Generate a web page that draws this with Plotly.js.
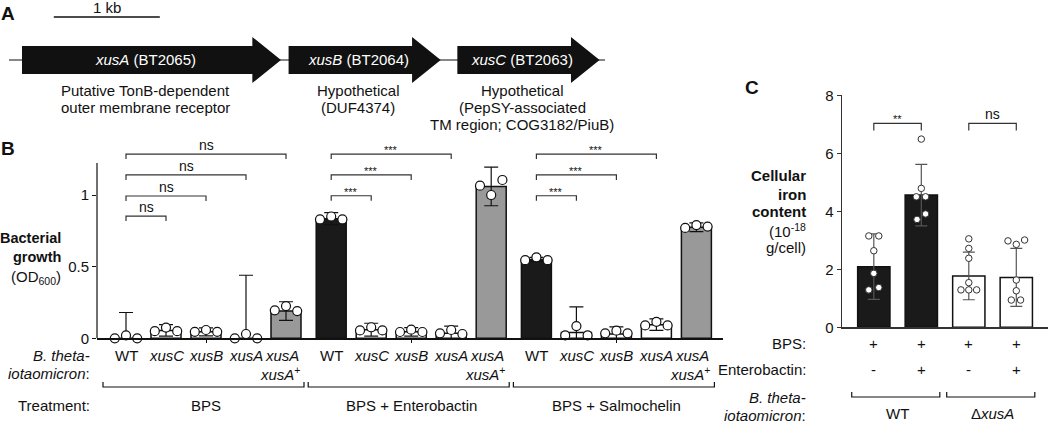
<!DOCTYPE html>
<html><head><meta charset="utf-8">
<script src="https://cdn.plot.ly/plotly-3.0.1.min.js"></script>
<style>html,body{margin:0;padding:0;background:#fff}#chart{width:1050px;height:423px}</style>
</head><body><div id="chart"></div>
<script>
// ================= DATA =================
// Panel A: xus locus (kb)
const geneNames = ['xusA', 'xusB', 'xusC'];
const geneIds = ['BT2065', 'BT2064', 'BT2063'];
const geneStart = [0, 2.515, 4.107];
const geneEnd = [2.443, 3.95, 5.449];
const geneDesc = [
  ['Putative TonB-dependent', 'outer membrane receptor'],
  ['Hypothetical', '(DUF4374)'],
  ['Hypothetical', '(PepSY-associated', 'TM region; COG3182/PiuB)']
];
const locusStart = -0.123;
const locusEnd = 5.5;
const scaleBarKb = 1;

// Panel B: bacterial growth (OD600)
const strains = ['WT', 'xusC', 'xusB', 'xusA', 'xusA xusA+'];
const treatments = ['BPS', 'BPS + Enterobactin', 'BPS + Salmochelin'];
const growthBPS = [0, 0.055, 0.045, 0, 0.19];
const growthEnt = [0.835, 0.06, 0.045, 0.035, 1.06];
const growthSal = [0.55, 0.04, 0.03, 0.095, 0.775];
const errBPS = [0.18, 0.04, 0.028, 0.44, 0.065];
const errEnt = [0.042, 0.045, 0.03, 0.05, 0.135];
const errSal = [0.015, 0.18, 0.05, 0.04, 0.03];
const repsBPS = [[0, 0.02, 0], [0.05, 0.075, 0.05], [0.045, 0.058, 0.045], [0, 0.03, 0], [0.195, 0.225, 0.19]];
const repsEnt = [[0.83, 0.85, 0.83], [0.055, 0.077, 0.055], [0.044, 0.06, 0.044], [0.035, 0.058, 0.03], [1.065, 1.0, 1.105]];
const repsSal = [[0.545, 0.565, 0.545], [0.02, 0.085, 0.02], [0.035, 0.053, 0.035], [0.09, 0.115, 0.09], [0.77, 0.79, 0.78]];
const sigGroup = [0, 0, 0, 0, 1, 1, 1, 2, 2, 2];
const sigTo = [1, 2, 3, 4, 1, 2, 3, 1, 2, 3];
const sigLabel = ['ns', 'ns', 'ns', 'ns', '***', '***', '***', '***', '***', '***'];

// Panel C: cellular iron content (1e-18 g/cell)
const ironGroups = ['WT', 'ΔxusA'];
const ironBPS = ['+', '+', '+', '+'];
const ironEnt = ['-', '+', '-', '+'];
const ironMean = [2.09, 4.56, 1.77, 1.72];
const ironErr = [1.13, 1.06, 0.82, 1.0];
const ironReps = [
  [3.15, 3.15, 2.64, 1.86, 1.37, 1.29],
  [6.49, 4.79, 4.5, 4.5, 3.91, 3.72],
  [3.05, 2.72, 2.38, 1.54, 1.29, 1.29, 1.29],
  [2.98, 2.86, 3.01, 1.63, 1.26, 0.94, 0.94]
];
const ironSigLabel = ['**', 'ns'];

// ================= DRAWING =================
const W = 1050, H = 423;
const FONT = 'Arial, "Liberation Sans", sans-serif';
const INK = '#111';
const px = x => x / W, py = y => 1 - y / H;
const annotations = [], shapes = [], traces = [];
const f = (size, color) => ({family: FONT, size: size || 15, color: color || INK});
function ann(o) {
  annotations.push(Object.assign({showarrow: false, xanchor: 'center', yanchor: 'middle', font: f()}, o));
}
function txt(text, x, y, opt) {
  ann(Object.assign({text, x, y, xref: 'paper', yref: 'paper'}, opt || {}));
}
function line(x0, y0, x1, y1, xref, yref, color, w) {
  shapes.push({type: 'line', x0, y0, x1, y1, xref, yref, line: {color: color || INK, width: w || 1.2}});
}

// ---------- Panel A ----------
const bodyH = 14, headH = 23, headL = 0.27;
traces.push({type: 'scatter', mode: 'lines', x: [locusStart, locusEnd], y: [0, 0], xaxis: 'x3', yaxis: 'y3',
  line: {color: INK, width: 1.2}, hoverinfo: 'skip', showlegend: false});
geneNames.forEach((g, k) => {
  const s = geneStart[k], e = geneEnd[k], h = e - headL;
  traces.push({type: 'scatter', mode: 'lines', fill: 'toself', fillcolor: '#111', line: {width: 0, color: '#111'},
    x: [s, h, h, e, h, h, s, s], y: [-bodyH, -bodyH, -headH, 0, headH, bodyH, bodyH, -bodyH],
    xaxis: 'x3', yaxis: 'y3', hoverinfo: 'skip', showlegend: false});
  const mid = (s + e) / 2 - 0.06;
  ann({text: '<i>' + g + '</i> (' + geneIds[k] + ')', x: mid, y: 0, xref: 'x3', yref: 'y3', font: f(15, '#fff')});
  geneDesc[k].forEach((d, j) => {
    ann({text: d, x: mid, y: py(91 + 17 * j), xref: 'x3', yref: 'paper'});
  });
});
line(0.3, py(17), 0.3 + scaleBarKb, py(17), 'x3', 'paper', INK, 1.3);
ann({text: scaleBarKb + ' kb', x: 0.3 + scaleBarKb / 2, y: py(7), xref: 'x3', yref: 'paper'});
txt('<b>A</b>', px(8), py(13), {font: f(19)});

// ---------- Panel B ----------
const GAP = 5.13;
const xB = (g, i) => g * GAP + i;
const groupMeans = [growthBPS, growthEnt, growthSal];
const groupErrs = [errBPS, errEnt, errSal];
const groupReps = [repsBPS, repsEnt, repsSal];
const strainColor = ['#1a1a1a', '#ffffff', '#ffffff', '#ffffff', '#999999'];
const bx = [], by = [], be = [], bc = [], rx = [], ry = [];
const jit = [-0.28, 0, 0.28, 0];
groupMeans.forEach((arr, g) => arr.forEach((v, i) => {
  bx.push(xB(g, i)); by.push(v); be.push(groupErrs[g][i]); bc.push(strainColor[i]);
  groupReps[g][i].forEach((r, j) => { rx.push(xB(g, i) + jit[j]); ry.push(r); });
}));
traces.push({type: 'bar', x: bx, y: by, width: 0.75, xaxis: 'x', yaxis: 'y',
  marker: {color: bc, line: {color: INK, width: 1.5}},
  error_y: {type: 'data', array: be, visible: true, color: INK, thickness: 1.2, width: 7},
  hoverinfo: 'skip', showlegend: false});
traces.push({type: 'scatter', mode: 'markers', x: rx, y: ry, xaxis: 'x', yaxis: 'y', cliponaxis: false,
  marker: {symbol: 'circle', size: 9, color: '#fff', line: {color: INK, width: 1.2}},
  hoverinfo: 'skip', showlegend: false});
// y axis line (to 1.22)
line(px(97), 0, px(97), 1.223, 'paper', 'y', INK, 1.2);
// significance brackets
const sigLevels = [[0.853, 0.993, 1.14, 1.286], [0.995, 1.14, 1.286], [0.995, 1.14, 1.286]];
const rank = [0, 0, 0];
sigLabel.forEach((lab, k) => {
  const g = sigGroup[k], lvl = sigLevels[g][rank[g]++];
  const x0 = xB(g, 0), x1 = xB(g, sigTo[k]), tick = 0.035;
  shapes.push({type: 'path', xref: 'x', yref: 'y', line: {color: '#333', width: 1.2},
    path: `M${x0},${lvl - tick} L${x0},${lvl} L${x1},${lvl} L${x1},${lvl - tick}`});
  ann({text: lab, x: (x0 + x1) / 2, y: lvl, xref: 'x', yref: 'y', yanchor: 'bottom',
    yshift: lab === 'ns' ? -1 : -4, font: f(lab === 'ns' ? 14 : 11)});
});
// y label
txt('<b>Bacterial</b>', px(63), py(238), {xanchor: 'right', font: f(14.5)});
txt('<b>growth</b>', px(63), py(257), {xanchor: 'right', font: f(14.5)});
txt('(OD<sub>600</sub>)', px(63), py(277), {xanchor: 'right'});
txt('<b>B</b>', px(8), py(149), {font: f(19)});
// strain labels
const rowB1 = 355, rowB2 = 373, brB = 387, rowT = 405;
treatments.forEach((t, g) => {
  strains.forEach((s, i) => {
    const x = xB(g, i);
    if (s === 'WT') ann({text: 'WT', x, y: py(rowB1), xref: 'x', yref: 'paper'});
    else if (s.indexOf(' ') > 0) {
      const parts = s.replace('+', '').split(' ');
      ann({text: '<i>' + parts[0] + '</i>', x, y: py(rowB1), xref: 'x', yref: 'paper', xshift: -4});
      ann({text: '<i>' + parts[1] + '</i><sup>+</sup>', x, y: py(rowB2), xref: 'x', yref: 'paper', xanchor: 'right', xshift: 17});
    } else ann({text: '<i>' + s + '</i>', x, y: py(rowB1), xref: 'x', yref: 'paper'});
  });
  const a = xB(g, 0) - 0.575, b = xB(g, 4) + 0.45;
  shapes.push({type: 'path', xref: 'x', yref: 'paper', line: {color: INK, width: 1.2},
    path: `M${a},${py(brB - 5)} L${a},${py(brB)} L${b},${py(brB)} L${b},${py(brB - 5)}`});
  ann({text: t, x: xB(g, 2), y: py(rowT), xref: 'x', yref: 'paper'});
});
txt('<i>B. theta-</i>', px(92), py(rowB1), {xanchor: 'right'});
txt('<i>iotaomicron</i>:', px(92), py(rowB2), {xanchor: 'right'});
txt('Treatment:', px(92), py(rowT), {xanchor: 'right'});

// ---------- Panel C ----------
const cx = ironMean.map((_, i) => i);
const cColor = ['#1a1a1a', '#1a1a1a', '#ffffff', '#ffffff'];
const ironJit = [
  [-0.105, 0.105, 0, 0, 0.105, -0.105],
  [0, 0, -0.105, 0.09, 0.09, -0.09],
  [0, 0, 0, 0, -0.165, 0, 0.165],
  [-0.175, 0, 0.175, 0, 0, -0.105, 0.09]
];
traces.push({type: 'bar', x: cx, y: ironMean, width: 0.68, xaxis: 'x2', yaxis: 'y2',
  marker: {color: cColor, line: {color: INK, width: 1.5}},
  error_y: {type: 'data', array: ironErr, visible: true, color: '#555', thickness: 1.2, width: 6},
  hoverinfo: 'skip', showlegend: false});
const crx = [], cry = [];
ironReps.forEach((arr, i) => arr.forEach((v, j) => { crx.push(i + ironJit[i][j]); cry.push(v); }));
traces.push({type: 'scatter', mode: 'markers', x: crx, y: cry, xaxis: 'x2', yaxis: 'y2', cliponaxis: false,
  marker: {symbol: 'circle', size: 6.5, color: '#fff', line: {color: '#333', width: 1}},
  hoverinfo: 'skip', showlegend: false});
ironSigLabel.forEach((lab, k) => {
  const x0 = 2 * k, x1 = 2 * k + 1, lvl = 7.03, tick = 0.24;
  shapes.push({type: 'path', xref: 'x2', yref: 'y2', line: {color: '#333', width: 1.2},
    path: `M${x0},${lvl - tick} L${x0},${lvl} L${x1},${lvl} L${x1},${lvl - tick}`});
  ann({text: lab, x: (x0 + x1) / 2, y: lvl, xref: 'x2', yref: 'y2', yanchor: 'bottom',
    yshift: lab === 'ns' ? -1 : -4, font: f(lab === 'ns' ? 14 : 11)});
});
txt('<b>Cellular</b>', px(808), py(176), {xanchor: 'right'});
txt('<b>iron</b>', px(808), py(194), {xanchor: 'right'});
txt('<b>content</b>', px(808), py(212), {xanchor: 'right'});
txt('(10<sup>-18</sup>', px(808), py(230), {xanchor: 'right'});
txt('g/cell)', px(808), py(248), {xanchor: 'right'});
txt('<b>C</b>', px(752), py(88), {font: f(19)});
txt('BPS:', px(808), py(343), {xanchor: 'right'});
txt('Enterobactin:', px(808), py(369), {xanchor: 'right'});
txt('<i>B. theta-</i>', px(808), py(397), {xanchor: 'right'});
txt('<i>iotaomicron</i>:', px(808), py(415), {xanchor: 'right'});
cx.forEach(i => {
  ann({text: ironBPS[i], x: i, y: py(343), xref: 'x2', yref: 'paper'});
  ann({text: ironEnt[i], x: i, y: py(369), xref: 'x2', yref: 'paper'});
});
ironGroups.forEach((g, k) => {
  const a = 2 * k - 0.465, b = 2 * k + 1.39;
  shapes.push({type: 'path', xref: 'x2', yref: 'paper', line: {color: INK, width: 1.2},
    path: `M${a},${py(392)} L${a},${py(397)} L${b},${py(397)} L${b},${py(392)}`});
  ann({text: g === 'WT' ? 'WT' : 'Δ<i>xusA</i>', x: 2 * k + 0.5, y: py(413), xref: 'x2', yref: 'paper'});
});

const hidden = {showline: false, showgrid: false, zeroline: false, showticklabels: false, ticks: '', fixedrange: true};
const layout = {
  width: W, height: H, margin: {l: 0, r: 0, t: 0, b: 0}, paper_bgcolor: '#fff', plot_bgcolor: 'rgba(0,0,0,0)',
  showlegend: false, bargap: 0,
  font: f(15),
  xaxis: {domain: [px(97), px(723)], range: [-0.725, 14.925], showline: true, linecolor: INK, linewidth: 1.2,
    ticks: 'outside', ticklen: 3, tickcolor: INK, tickvals: [xB(0, 2), xB(1, 2), xB(2, 2)], showticklabels: false,
    showgrid: false, zeroline: false, fixedrange: true},
  yaxis: {domain: [py(338.3), py(140)], range: [0, 1.384], showline: false, ticks: 'outside', ticklen: 4,
    tickcolor: INK, tickvals: [0, 0.5, 1], ticktext: ['0', '0.5', '1'], tickfont: f(15),
    showgrid: false, zeroline: false, fixedrange: true},
  xaxis2: {domain: [px(841.7), px(1048.3)], range: [-0.676, 3.674], anchor: 'y2', showline: true, linecolor: '#333',
    linewidth: 1.2, showticklabels: false, ticks: '', showgrid: false, zeroline: false, fixedrange: true},
  yaxis2: {domain: [py(327.3), py(95.3)], range: [0, 8], anchor: 'x2', showline: true, linecolor: '#333', linewidth: 1.2,
    ticks: 'outside', ticklen: 4, tickcolor: '#333', tickvals: [0, 2, 4, 6, 8], tickfont: f(15),
    showgrid: false, zeroline: false, fixedrange: true},
  xaxis3: Object.assign({domain: [0, px(651)], range: [-22 / 106, (651 - 22) / 106], anchor: 'y3'}, hidden),
  yaxis3: Object.assign({domain: [py(100), py(20)], range: [-40, 40], anchor: 'x3'}, hidden),
  annotations, shapes
};
Plotly.newPlot('chart', traces, layout, {staticPlot: true, displayModeBar: false});
</script>
</body></html>
